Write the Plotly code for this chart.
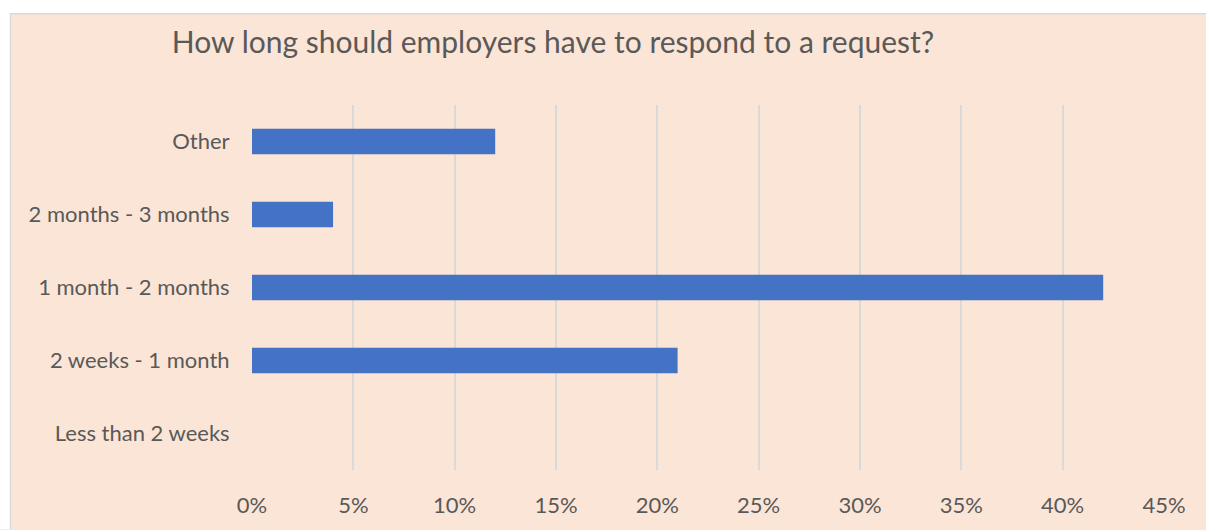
import plotly.graph_objects as go

categories = ["Less than 2 weeks", "2 weeks - 1 month", "1 month - 2 months", "2 months - 3 months", "Other"]
values = [0.0, 0.21, 0.42, 0.04, 0.12]
tick_vals = [0, 0.05, 0.10, 0.15, 0.20, 0.25, 0.30, 0.35, 0.40, 0.45]
tick_text = ["0%", "5%", "10%", "15%", "20%", "25%", "30%", "35%", "40%", "45%"]
title_text = "How long should employers have to respond to a request?"

BG = "#FBE5D6"
TXT = "#595959"
W, H = 1206, 530
L, R, T, B = 252, 42, 105, 55

fig = go.Figure(go.Bar(
    x=values, y=categories, orientation="h",
    marker=dict(color="#4472C4", line=dict(width=0)),
    hoverinfo="skip",
))

pw, ph = W - L - R, H - T - B
def px_x(v):
    return (v - L) / pw
def px_y(v):
    return (H - B - v) / ph

shapes = [
    dict(type="rect", xref="paper", yref="paper", x0=px_x(-5), x1=px_x(W + 5), y0=px_y(12), y1=px_y(-5),
         fillcolor="white", line=dict(width=0), layer="below"),
    dict(type="rect", xref="paper", yref="paper", x0=px_x(-5), x1=px_x(10), y0=px_y(H + 5), y1=px_y(-5),
         fillcolor="white", line=dict(width=0), layer="below"),
    dict(type="line", xref="paper", yref="paper", x0=px_x(10), x1=px_x(W + 5), y0=px_y(12.5), y1=px_y(12.5),
         line=dict(color="#D9D9D9", width=1.5)),
    dict(type="line", xref="paper", yref="paper", x0=px_x(10.5), x1=px_x(10.5), y0=px_y(12), y1=px_y(H + 5),
         line=dict(color="#D9D9D9", width=1.5)),
]

fig.update_layout(
    width=W, height=H,
    margin=dict(l=L, r=R, t=T, b=B),
    paper_bgcolor=BG, plot_bgcolor=BG,
    font=dict(family="Lato", color=TXT, size=22),
    title=dict(text=title_text, x=553 / W, xanchor="center", xref="container",
               y=1 - 42 / H, yanchor="middle", yref="container",
               font=dict(family="Lato", size=30, color=TXT)),
    bargap=0.65,
    showlegend=False,
    shapes=shapes,
    xaxis=dict(range=[0, 0.45], tickvals=tick_vals, ticktext=tick_text,
               showgrid=True, gridcolor="#D9D9D9", gridwidth=1.6,
               zeroline=False, showline=False,
               ticks="outside", ticklen=16, tickcolor="rgba(0,0,0,0)",
               tickfont=dict(size=22, color=TXT), fixedrange=True),
    yaxis=dict(showgrid=False, zeroline=False, showline=False,
               ticks="outside", ticklen=17, tickcolor="rgba(0,0,0,0)",
               tickfont=dict(size=22, color=TXT), fixedrange=True),
)

fig.write_html("out.html")
